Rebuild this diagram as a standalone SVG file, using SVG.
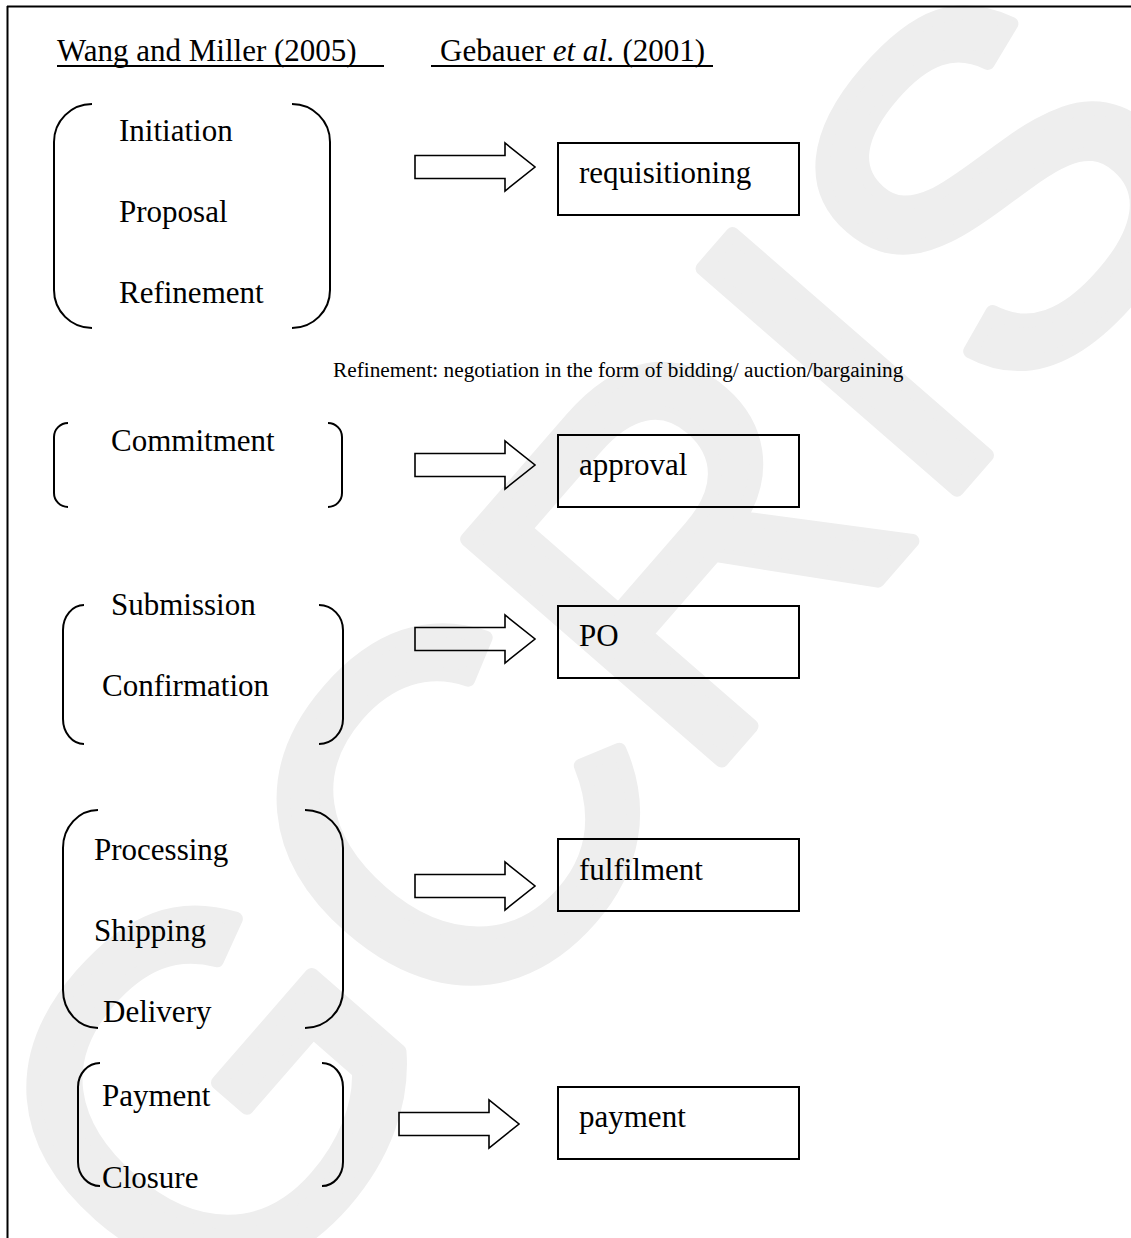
<svg xmlns="http://www.w3.org/2000/svg" width="1131" height="1238" viewBox="0 0 1131 1238">
  <style>
    .t { font-family: "Liberation Serif", "Times New Roman", serif; font-size: 31px; fill: #000; }
    .note { font-family: "Liberation Serif", "Times New Roman", serif; font-size: 21.3px; fill: #000; }
    .br { fill: none; stroke: #000; stroke-width: 2; }
    .box { fill: none; stroke: #000; stroke-width: 2; }
    .arr { fill: none; stroke: #000; stroke-width: 1.6; stroke-linejoin: miter; }
    .rule { stroke: #000; stroke-width: 2; }
    .wm { font-family: "Liberation Sans", Arial, sans-serif; font-size: 490px; fill: #eeeeee; stroke: #eeeeee; stroke-width: 14; stroke-linejoin: round; }
  </style>

  <rect width="1131" height="1238" fill="#fff"/>

  <!-- background stamp -->
  <text class="wm" transform="translate(722 760) rotate(-49)" x="0" y="0" text-anchor="middle">GCRIS</text>

  <!-- page frame -->
  <line class="rule" x1="7" y1="6.5" x2="1131" y2="6.5"/>
  <line class="rule" x1="7.5" y1="6" x2="7.5" y2="1238"/>

  <!-- column headings -->
  <g id="headings">
    <text class="t" x="57" y="61">Wang and Miller (2005)</text>
    <line class="rule" x1="57" y1="66" x2="384" y2="66"/>
    <text class="t" x="440" y="61">Gebauer <tspan font-style="italic">et al.</tspan> (2001)</text>
    <line class="rule" x1="431" y1="66" x2="713" y2="66"/>
  </g>

  <!-- Wang and Miller stages -->
  <g id="stage-initiation">
    <path class="br" d="M 92 104 A 38 38 0 0 0 54 142 L 54 290 A 38 38 0 0 0 92 328"/>
    <path class="br" d="M 292 104 A 38 38 0 0 1 330 142 L 330 290 A 38 38 0 0 1 292 328"/>
    <text class="t" x="119" y="141">Initiation</text>
    <text class="t" x="119" y="222">Proposal</text>
    <text class="t" x="119" y="303">Refinement</text>
  </g>

  <g id="refinement-note">
    <text class="note" x="333" y="377">Refinement: negotiation in the form of bidding/ auction/bargaining</text>
  </g>

  <g id="stage-commitment">
    <path class="br" d="M 68 423 A 14 14 0 0 0 54 437 L 54 493 A 14 14 0 0 0 68 507"/>
    <path class="br" d="M 328 423 A 14 14 0 0 1 342 437 L 342 493 A 14 14 0 0 1 328 507"/>
    <text class="t" x="111" y="451">Commitment</text>
  </g>

  <g id="stage-submission">
    <path class="br" d="M 84 605 A 21 25 0 0 0 63 630 L 63 719 A 21 25 0 0 0 84 744"/>
    <path class="br" d="M 319 605 A 24 25 0 0 1 343 630 L 343 719 A 24 25 0 0 1 319 744"/>
    <text class="t" x="111" y="615">Submission</text>
    <text class="t" x="102" y="696">Confirmation</text>
  </g>

  <g id="stage-processing">
    <path class="br" d="M 98 810 A 35 38 0 0 0 63 848 L 63 990 A 35 38 0 0 0 98 1028"/>
    <path class="br" d="M 305 810 A 38 38 0 0 1 343 848 L 343 990 A 38 38 0 0 1 305 1028"/>
    <text class="t" x="94" y="860">Processing</text>
    <text class="t" x="94" y="941">Shipping</text>
    <text class="t" x="103" y="1022">Delivery</text>
  </g>

  <g id="stage-payment">
    <path class="br" d="M 100 1063 A 22 24 0 0 0 78 1087 L 78 1162 A 22 24 0 0 0 100 1186"/>
    <path class="br" d="M 322 1063 A 21 24 0 0 1 343 1087 L 343 1162 A 21 24 0 0 1 322 1186"/>
    <text class="t" x="102" y="1106">Payment</text>
    <text class="t" x="102" y="1188">Closure</text>
  </g>

  <!-- Gebauer et al. steps -->
  <g id="step-requisitioning">
    <rect class="box" x="558" y="143" width="241" height="72"/>
    <text class="t" x="579" y="183">requisitioning</text>
  </g>
  <g id="step-approval">
    <rect class="box" x="558" y="435" width="241" height="72"/>
    <text class="t" x="579" y="475">approval</text>
  </g>
  <g id="step-po">
    <rect class="box" x="558" y="606" width="241" height="72"/>
    <text class="t" x="579" y="646">PO</text>
  </g>
  <g id="step-fulfilment">
    <rect class="box" x="558" y="839" width="241" height="72"/>
    <text class="t" x="579" y="880">fulfilment</text>
  </g>
  <g id="step-payment">
    <rect class="box" x="558" y="1087" width="241" height="72"/>
    <text class="t" x="579" y="1127">payment</text>
  </g>

  <!-- block arrows linking stages to steps -->
  <g id="connectors">
    <polygon class="arr" points="415,155.5 505,155.5 505,143 535,167 505,191 505,178.5 415,178.5"/>
    <polygon class="arr" points="415,453.5 505,453.5 505,441 535,465 505,489 505,476.5 415,476.5"/>
    <polygon class="arr" points="415,627.5 505,627.5 505,615 535,639 505,663 505,650.5 415,650.5"/>
    <polygon class="arr" points="415,874.5 505,874.5 505,862 535,886 505,910 505,897.5 415,897.5"/>
    <polygon class="arr" points="399,1112.5 489,1112.5 489,1100 519,1124 489,1148 489,1135.5 399,1135.5"/>
  </g>
</svg>
